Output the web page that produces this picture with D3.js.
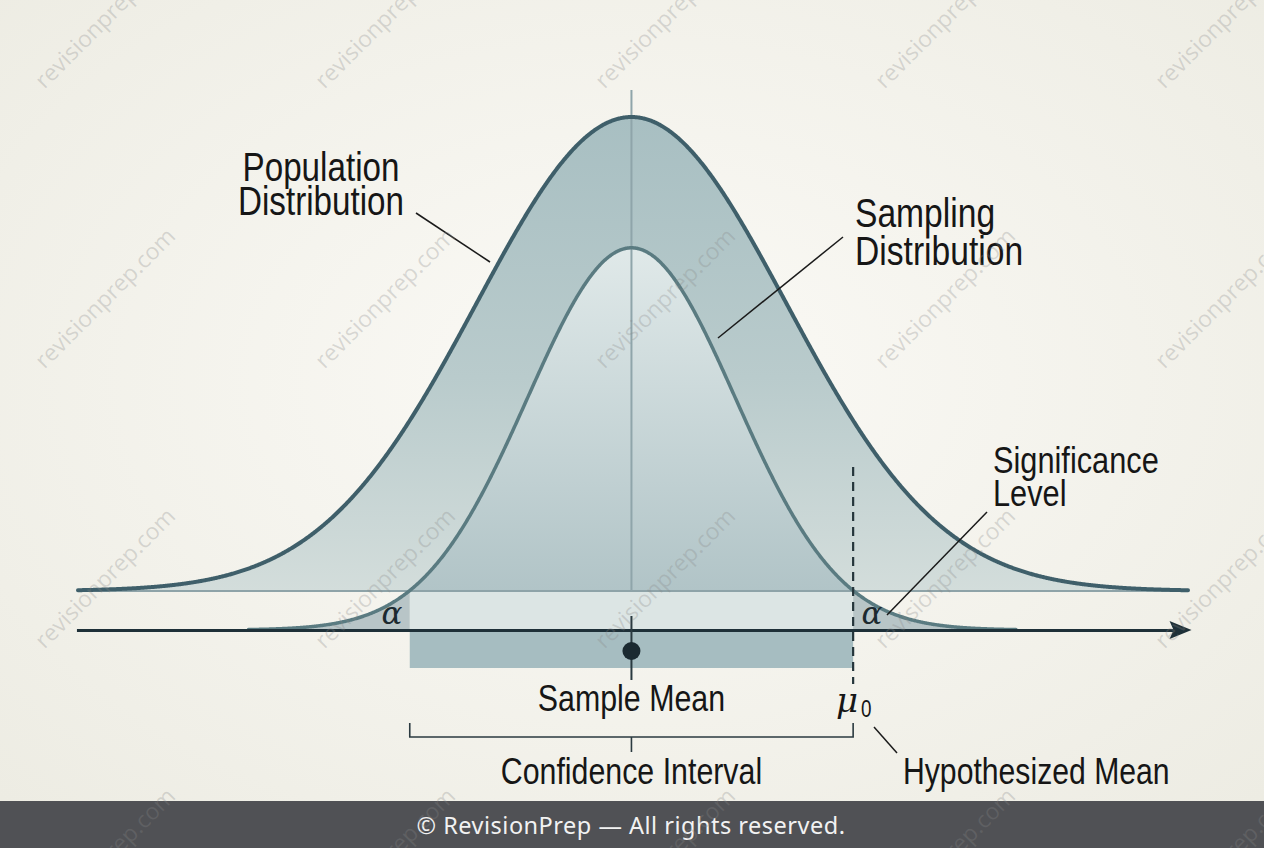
<!DOCTYPE html>
<html><head><meta charset="utf-8">
<script src="https://cdn.jsdelivr.net/npm/d3@7"></script>
<style>html,body{margin:0;padding:0;overflow:hidden;background:#f5f4ee}</style>
</head><body><svg id="c" width="1264" height="848"></svg>
<script>
// ---- data (in population-SD units) ----
const distributionNames = ["Population Distribution", "Sampling Distribution"];
const distributionMeans = [0, 0];
const distributionSDs = [1, 0.671];
const distributionPeaks = [1, 0.745];        // relative height of each peak
const distributionBaselines = [0.076, 0];    // relative height of each baseline
const distributionExtents = [[-3.57, 3.59], [-2.47, 2.48]];
const confidenceInterval = [-1.43, 1.43];
const sampleMean = [0];
const hypothesizedMean = [1.43];
const axisExtent = [-3.58, 3.6];
const populationLabel = ["Population", "Distribution"];
const samplingLabel = ["Sampling", "Distribution"];
const significanceLabel = ["Significance", "Level"];
const alphaSymbol = "\u03B1";
const muSymbol = "\u03BC";
const bottomLabels = ["Sample Mean", "Confidence Interval", "Hypothesized Mean"];
const watermarkText = "revisionprep.com";
const footerText = "\u00A9 RevisionPrep \u2014 All rights reserved.";

const W = 1264, H = 848;
const svg = d3.select("#c");
const defs = svg.append("defs");
const FONT = "'Liberation Sans','Arial',sans-serif";
const NARROW = 0.82;

const x = d3.scaleLinear().domain(distributionExtents[0]).range([78, 1188]);
const y = d3.scaleLinear().domain([0, 1]).range([630, 117]);

function density(i, v) {
  const z = (v - distributionMeans[i]) / distributionSDs[i];
  return distributionBaselines[i] + (distributionPeaks[i] - distributionBaselines[i]) * Math.exp(-0.5 * z * z);
}
function pts(i, lo, hi) {
  const a = d3.range(lo, hi, 0.005); a.push(hi);
  return a.map(v => [v, density(i, v)]);
}

// background
const bg = defs.append("radialGradient").attr("id", "bg").attr("cx", "50%").attr("cy", "45%").attr("r", "70%");
bg.append("stop").attr("offset", "0%").attr("stop-color", "#fbfaf6");
bg.append("stop").attr("offset", "100%").attr("stop-color", "#edece3");
svg.append("rect").attr("width", W).attr("height", H).attr("fill", "url(#bg)");

// gradients
const gPop = defs.append("linearGradient").attr("id", "gPop").attr("gradientUnits", "userSpaceOnUse")
  .attr("x1", 0).attr("y1", y(1)).attr("x2", 0).attr("y2", y(distributionBaselines[0]));
gPop.append("stop").attr("offset", "0%").attr("stop-color", "#a8bfc2");
gPop.append("stop").attr("offset", "55%").attr("stop-color", "#b9cbcc");
gPop.append("stop").attr("offset", "100%").attr("stop-color", "#d3dddb");
const gSam = defs.append("linearGradient").attr("id", "gSam").attr("gradientUnits", "userSpaceOnUse")
  .attr("x1", 0).attr("y1", y(distributionPeaks[1])).attr("x2", 0).attr("y2", y(distributionBaselines[0]));
gSam.append("stop").attr("offset", "0%").attr("stop-color", "#e0e9e9");
gSam.append("stop").attr("offset", "100%").attr("stop-color", "#b1c4c7");

const area0 = (base) => d3.area().x(d => x(d[0])).y0(y(base)).y1(d => y(d[1]));
const line = d3.line().x(d => x(d[0])).y(d => y(d[1]));

const popPts = pts(0, distributionExtents[0][0], distributionExtents[0][1]);
const samPts = pts(1, distributionExtents[1][0], distributionExtents[1][1]);

// population fill
svg.append("path").attr("d", area0(distributionBaselines[0])(popPts)).attr("fill", "url(#gPop)");
// sampling fill (above population baseline)
svg.append("path").attr("d", area0(distributionBaselines[0])(pts(1, confidenceInterval[0], confidenceInterval[1]))).attr("fill", "url(#gSam)");
// band inside confidence interval
svg.append("rect").attr("x", x(confidenceInterval[0])).attr("y", y(distributionBaselines[0]))
  .attr("width", x(confidenceInterval[1]) - x(confidenceInterval[0]))
  .attr("height", y(0) - y(distributionBaselines[0])).attr("fill", "#dce5e4");
// alpha tails
svg.append("path").attr("d", area0(0)(pts(1, distributionExtents[1][0], confidenceInterval[0]))).attr("fill", "#b8c5c7");
svg.append("path").attr("d", area0(0)(pts(1, hypothesizedMean[0], distributionExtents[1][1]))).attr("fill", "#b8c5c7");
// rect below axis
svg.append("rect").attr("x", x(confidenceInterval[0])).attr("y", y(0))
  .attr("width", x(confidenceInterval[1]) - x(confidenceInterval[0])).attr("height", 38).attr("fill", "#a6bdc1");

// population baseline
svg.append("line").attr("x1", x(distributionExtents[0][0])).attr("x2", x(distributionExtents[0][1]))
  .attr("y1", y(distributionBaselines[0])).attr("y2", y(distributionBaselines[0]))
  .attr("stroke", "#8ea3a8").attr("stroke-width", 2);
// centre vertical
svg.append("line").attr("x1", x(sampleMean[0])).attr("x2", x(sampleMean[0])).attr("y1", 90).attr("y2", y(distributionBaselines[0]))
  .attr("stroke", "#8fa5aa").attr("stroke-width", 2);

// curves
svg.append("path").attr("d", line(popPts)).attr("fill", "none").attr("stroke", "#3f5f6a").attr("stroke-width", 4).attr("stroke-linecap", "round");
svg.append("path").attr("d", line(samPts)).attr("fill", "none").attr("stroke", "#5a7b81").attr("stroke-width", 3.5).attr("stroke-linecap", "round");

// axis with arrow
const axG = svg.append("g").attr("transform", `translate(0,${y(0)})`);
axG.call(d3.axisBottom(x.copy().domain([axisExtent[0], axisExtent[1] - 0.1]).range([x(axisExtent[0]), x(axisExtent[1]) - 14])).ticks(0).tickSizeOuter(0));
axG.select(".domain").attr("stroke", "#1e3038").attr("stroke-width", 3);
const ax1 = x(axisExtent[1]) + 2;
svg.append("path").attr("d", `M${ax1},${y(0)} L${ax1 - 22},${y(0) - 9} L${ax1 - 18},${y(0)} L${ax1 - 22},${y(0) + 9} Z`).attr("fill", "#1e3038");

// hypothesized mean dashed line
svg.append("line").attr("x1", x(hypothesizedMean[0])).attr("x2", x(hypothesizedMean[0])).attr("y1", 467).attr("y2", 684)
  .attr("stroke", "#25353b").attr("stroke-width", 2.2).attr("stroke-dasharray", "9,6");

// sample mean marker
svg.append("line").attr("x1", x(sampleMean[0])).attr("x2", x(sampleMean[0])).attr("y1", 616).attr("y2", 680)
  .attr("stroke", "#2a3a40").attr("stroke-width", 2);
svg.append("circle").attr("cx", x(sampleMean[0])).attr("cy", 651).attr("r", 9).attr("fill", "#1b2a31");

// bracket
const bl = x(confidenceInterval[0]), br = x(confidenceInterval[1]);
svg.append("path").attr("d", `M${bl},723 V737 H${br} V723 M${x(sampleMean[0])},737 V752`)
  .attr("fill", "none").attr("stroke", "#2b3a40").attr("stroke-width", 1.6);

// leader lines
const leaders = [[416, 213, 490, 262], [843, 237, 718, 338], [987, 512, 887, 615], [874, 727, 897, 753]];
svg.selectAll(".ld").data(leaders).join("line").attr("class", "ld")
  .attr("x1", d => d[0]).attr("y1", d => d[1]).attr("x2", d => d[2]).attr("y2", d => d[3])
  .attr("stroke", "#1a1a1a").attr("stroke-width", 1.5);

// narrow text helper
function ntext(s, xPos, yPos, anchor, size) {
  svg.append("g").attr("transform", `translate(${xPos},${yPos}) scale(${NARROW},1)`)
    .append("text").attr("text-anchor", anchor).attr("font-family", FONT).attr("font-size", size)
    .attr("fill", "#161616").text(s);
}
function multi(lines, xPos, yPos, dy, anchor, size) {
  lines.forEach((s, i) => ntext(s, xPos, yPos + i * dy, anchor, size));
}
multi(populationLabel, 321, 181, 34, "middle", 40.5);
multi(samplingLabel, 855, 227, 38, "start", 41);
multi(significanceLabel, 993, 473, 33, "start", 37.5);
ntext(bottomLabels[0], x(sampleMean[0]), 711, "middle", 37);
ntext(bottomLabels[1], x(sampleMean[0]), 784, "middle", 37);
ntext(bottomLabels[2], 903, 784, "start", 36.8);

// alpha symbols
[[392, 624], [872, 624]].forEach(p => {
  svg.append("text").attr("x", p[0]).attr("y", p[1]).attr("text-anchor", "middle")
    .attr("font-family", "'DejaVu Serif','Liberation Serif',serif").attr("font-style", "italic").attr("font-size", 31)
    .attr("fill", "#1c2a30").text(alphaSymbol);
});
// mu0
svg.append("text").attr("x", 836).attr("y", 712).attr("font-family", "'DejaVu Serif','Liberation Serif',serif")
  .attr("font-style", "italic").attr("font-size", 34).attr("fill", "#161616").text(muSymbol);
ntext("0", 861, 717, "start", 23);

// footer
svg.append("rect").attr("x", 0).attr("y", 801).attr("width", W).attr("height", H - 801).attr("fill", "#505155");
svg.append("text").attr("x", 631).attr("y", 834).attr("text-anchor", "middle").attr("font-family", "'Noto Sans','Open Sans',sans-serif")
  .attr("font-size", 23.5).attr("letter-spacing", 0.5).attr("fill", "#f2f2f2").text(footerText);

// watermark
const wmCols = d3.range(5), wmRows = d3.range(4);
const wm = svg.append("g").attr("pointer-events", "none");
wmRows.forEach(r => wmCols.forEach(c => {
  const cx = 105 + 280 * c, cy = 18 + 280 * r;
  wm.append("text").attr("transform", `translate(${cx},${cy}) rotate(-45)`).attr("text-anchor", "middle").attr("dy", "0.35em")
    .attr("font-family", "'Open Sans','DejaVu Sans',sans-serif").attr("font-size", 23)
    .attr("fill", "rgba(135,135,135,0.28)").text(watermarkText);
}));
</script></body></html>
